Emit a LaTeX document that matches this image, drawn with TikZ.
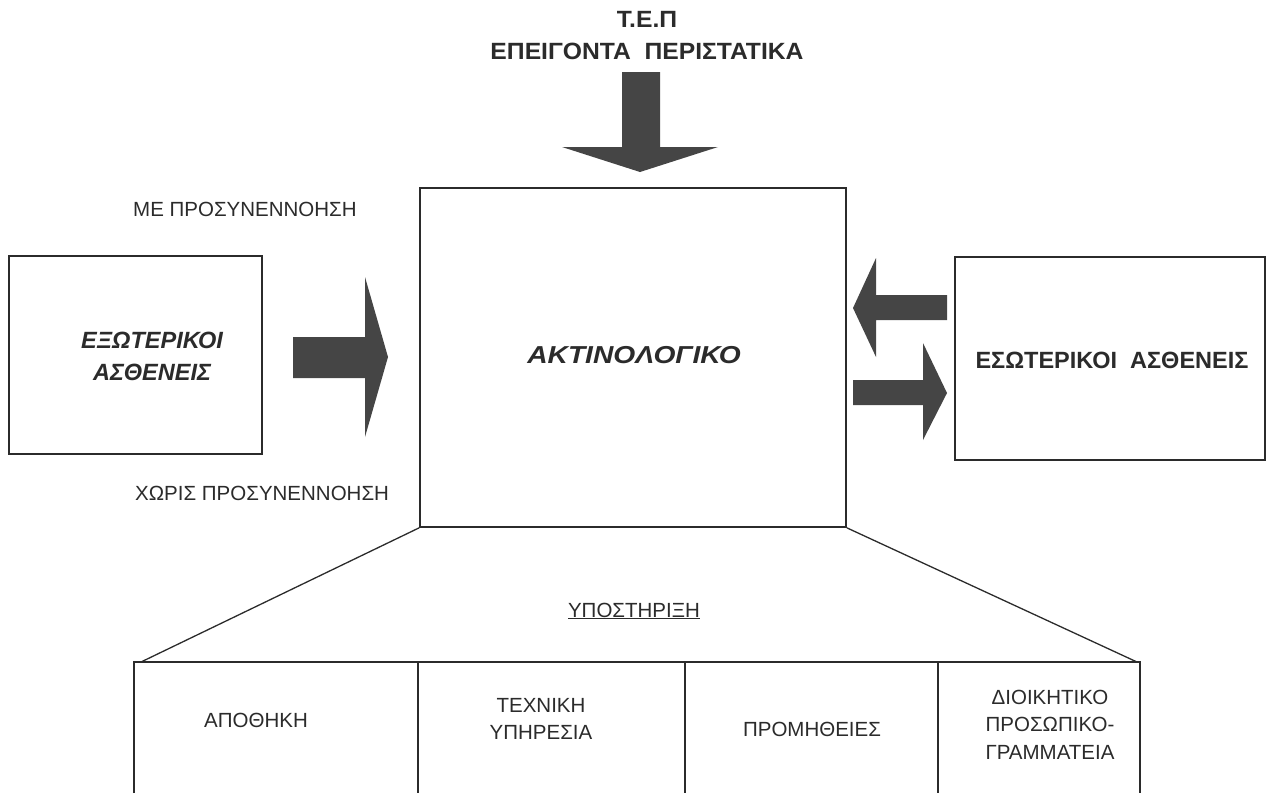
\documentclass[tikz,border=0pt]{standalone}
\usepackage{graphicx}
\usepackage{fontspec}
\setmainfont{Liberation Sans}
\definecolor{ink}{HTML}{2B2B2B}
\definecolor{arrowgray}{HTML}{454545}
\newcommand{\widetext}[2]{\scalebox{#1}[1]{#2}}
\begin{document}
\begin{tikzpicture}[x=1pt,y=-1pt,
  frame/.style={draw=ink,line width=1.6pt},
  thinline/.style={draw=ink,line width=1.3pt},
  blockarrow/.style={fill=arrowgray,draw=none},
  plain/.style={text=ink,inner sep=0pt,font=\fontsize{20.5}{26.5}\selectfont,align=center},
  heavy/.style={text=ink,inner sep=0pt,font=\fontsize{23.5}{32}\selectfont\bfseries,align=center},
  slanted/.style={text=ink,inner sep=0pt,font=\fontsize{23.5}{32}\selectfont\bfseries\itshape,align=center}]
\useasboundingbox (0,0) rectangle (1268,793);

% main boxes
\node[frame,minimum width=426pt,minimum height=339pt,inner sep=0pt] (xray) at (633,357.5) {};
\node[frame,minimum width=253pt,minimum height=198pt,inner sep=0pt] (outp) at (135.5,355) {};
\node[frame,minimum width=310pt,minimum height=203pt,inner sep=0pt] (inp) at (1110,358.5) {};

\node[slanted,font=\fontsize{24.5}{32}\selectfont\bfseries\itshape] (xraylbl) at (634,355) {\widetext{1.15}{ΑΚΤΙΝΟΛΟΓΙΚΟ}};
\node[slanted] (outplbl) at (152,356) {ΕΞΩΤΕΡΙΚΟΙ\\ΑΣΘΕΝΕΙΣ};
\node[heavy] (inplbl) at (1112,360) {ΕΣΩΤΕΡΙΚΟΙ\ \ ΑΣΘΕΝΕΙΣ};

% emergency label above
\node[heavy] (ter) at (647,36) {\widetext{1.05}{Τ.Ε.Π}\\\widetext{1.05}{ΕΠΕΙΓΟΝΤΑ\hspace{0.55em}ΠΕΡΙΣΤΑΤΙΚΑ}};

% side labels
\node[plain,anchor=west] (with) at (133,209.5) {ΜΕ ΠΡΟΣΥΝΕΝΝΟΗΣΗ};
\node[plain,anchor=west] (without) at (135,493) {ΧΩΡΙΣ ΠΡΟΣΥΝΕΝΝΟΗΣΗ};

% block arrows
\draw[blockarrow] (622,72) -- (660,72) -- (660,147) -- (718,147) -- (640,172)
  -- (562,147) -- (622,147) -- cycle;
\draw[blockarrow] (293,337) -- (365,337) -- (365,277) -- (388,357) -- (365,437)
  -- (365,378) -- (293,378) -- cycle;
\draw[blockarrow] (947,295) -- (876,295) -- (876,258) -- (853,308) -- (876,357)
  -- (876,320) -- (947,320) -- cycle;
\draw[blockarrow] (853,380) -- (923,380) -- (923,343) -- (947,393) -- (923,440)
  -- (923,405) -- (853,405) -- cycle;

% support block
\coordinate (sl) at (134,662);
\coordinate (sr) at (1140,662);
\coordinate (slb) at (134,793);
\coordinate (srb) at (1140,793);
\draw[thinline] (xray.south west) -- (141,662);
\draw[thinline] (xray.south east) -- (1137,662);
\draw[frame] (slb) -- (sl) -- (sr) -- (srb);
\foreach \x in {418,685,938} \draw[thinline] (\x,662) -- (\x,793);

\node[plain,anchor=base] (supp) at (634,617) {\underline{ΥΠΟΣΤΗΡΙΞΗ}};

\node[plain] (store) at (256,720) {ΑΠΟΘΗΚΗ};
\node[plain] (tech) at (541,719) {ΤΕΧΝΙΚΗ\\ΥΠΗΡΕΣΙΑ};
\node[plain] (supply) at (812,729) {ΠΡΟΜΗΘΕΙΕΣ};
\node[plain,font=\fontsize{20.5}{27.5}\selectfont] (admin) at (1050,724.5) {ΔΙΟΙΚΗΤΙΚΟ\\ΠΡΟΣΩΠΙΚΟ-\\ΓΡΑΜΜΑΤΕΙΑ};
\end{tikzpicture}
\end{document}
